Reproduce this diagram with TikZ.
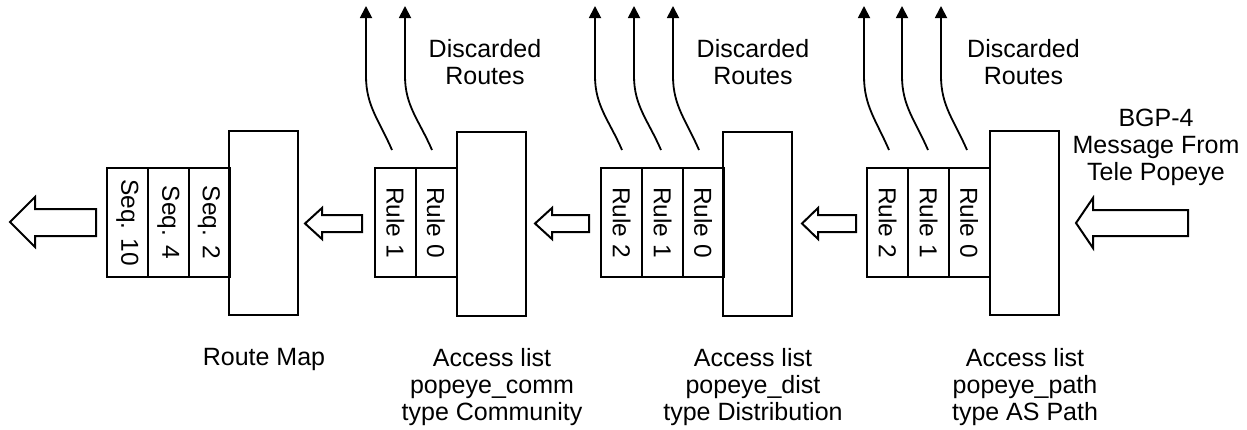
\documentclass[tikz,border=0pt]{standalone}
\usepackage{fontspec}
\setmainfont{Liberation Sans}
\usetikzlibrary{arrows.meta,calc}
\begin{document}
\begin{tikzpicture}[x=1pt,y=-1pt,
 bigbox/.style={draw, line width=2pt, minimum width=69pt, minimum height=184pt, inner sep=0pt},
 cell/.style={draw, line width=2pt, rotate=-90, minimum width=109pt, minimum height=41pt, inner sep=0pt, font=\fontsize{24.5}{27}\selectfont},
 lbl/.style={align=center, font=\fontsize{25}{27}\selectfont, inner sep=0pt},
 blk/.style={draw, line width=2pt, line join=miter},
 disc/.style={line width=1.8pt, -{Triangle[length=12pt,width=12pt]}}]
\path[use as bounding box] (0,0) rectangle (1247,429);

% Route map
\node[bigbox] (rm) at (263,223) {};
\node[cell] (rm2) at (209,222.5) {Seq. 2};
\node[cell] (rm4) at (168.5,222.5) {Seq. 4};
\node[cell] (rm10) at (127.5,222.5) {Seq. 10};
\node[lbl, anchor=north] (rmlbl) at (264,348) {Route Map};

% Community
\node[bigbox] (cm) at (491,223.5) {};
\node[cell] (cm0) at (436,222.5) {Rule 0};
\node[cell] (cm1) at (395.5,222.5) {Rule 1};
\node[lbl, anchor=north] (cmlbl) at (492,348) {Access list\\popeye\_comm\\type Community};
\node[lbl, anchor=north] (cmdisc) at (485,39) {Discarded\\Routes};
\coordinate (cmb0) at (432,150); \coordinate (cmt0) at (405,6);
\coordinate (cmb1) at (392,150); \coordinate (cmt1) at (366,6);

% Distribution
\node[bigbox] (ds) at (757.5,223.5) {};
\node[cell] (ds0) at (703,222.5) {Rule 0};
\node[cell] (ds1) at (662.5,222.5) {Rule 1};
\node[cell] (ds2) at (621.5,222.5) {Rule 2};
\node[lbl, anchor=north] (dslbl) at (753,348) {Access list\\popeye\_dist\\type Distribution};
\node[lbl, anchor=north] (dsdisc) at (753,39) {Discarded\\Routes};
\coordinate (dsb0) at (699,150); \coordinate (dst0) at (673,6);
\coordinate (dsb1) at (661,150); \coordinate (dst1) at (634,6);
\coordinate (dsb2) at (622,150); \coordinate (dst2) at (595,6);

% AS Path
\node[bigbox] (ap) at (1024,223) {};
\node[cell] (ap0) at (969,222.5) {Rule 0};
\node[cell] (ap1) at (928.5,222.5) {Rule 1};
\node[cell] (ap2) at (887.5,222.5) {Rule 2};
\node[lbl, anchor=north] (aplbl) at (1025,348) {Access list\\popeye\_path\\type AS Path};
\node[lbl, anchor=north] (apdisc) at (1023.5,39) {Discarded\\Routes};
\node[lbl, anchor=north] (bgp) at (1156,109) {BGP-4\\Message From\\Tele Popeye};
\coordinate (apb0) at (967,150); \coordinate (apt0) at (941,6);
\coordinate (apb1) at (928,150); \coordinate (apt1) at (902,6);
\coordinate (apb2) at (889,150); \coordinate (apt2) at (864,6);

% discard arrows
\foreach \b/\t in {cmb0/cmt0, cmb1/cmt1, dsb0/dst0, dsb1/dst1, dsb2/dst2, apb0/apt0, apb1/apt1, apb2/apt2}{
  \draw[disc] (\b) .. controls ($(\b)+(-13,-30)$) and ($(\t)+(0,100)$) .. ($(\t)+(0,70)$) -- (\t);
}

% block arrows
\draw[blk] (1188,210) -- (1093,210) -- (1093,198) -- (1076,223) -- (1093,248) -- (1093,236) -- (1188,236) -- cycle;
\draw[blk] (856,215) -- (818,215) -- (818,208) -- (802,223.5) -- (818,239) -- (818,232) -- (856,232) -- cycle;
\draw[blk] (589,215) -- (552,215) -- (552,208) -- (535,223.5) -- (552,239) -- (552,232) -- (589,232) -- cycle;
\draw[blk] (362,215) -- (322,215) -- (322,208) -- (305,223.5) -- (322,239) -- (322,232) -- (362,232) -- cycle;
\draw[blk] (96,209) -- (35,209) -- (35,197) -- (10,222) -- (35,247) -- (35,236) -- (96,236) -- cycle;
\end{tikzpicture}
\end{document}
